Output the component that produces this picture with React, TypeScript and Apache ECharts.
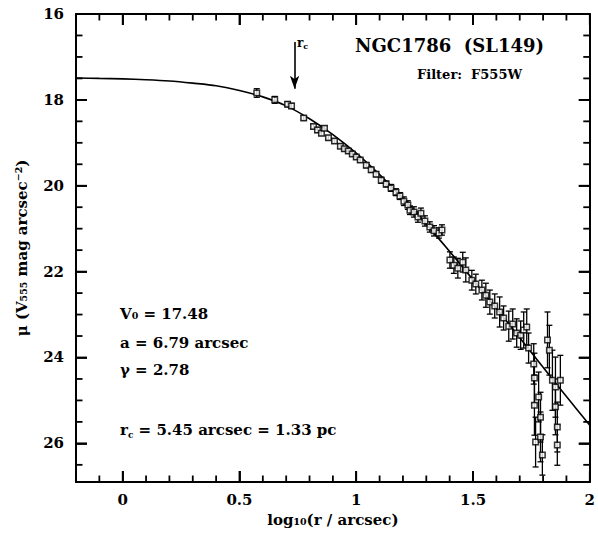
import React, { useEffect, useRef } from 'react';
import * as echarts from 'echarts';

// Observed profile points: log10(r / arcsec), surface brightness, 1-sigma error
const logR = [
  0.574, 0.651, 0.706, 0.723, 0.775, 0.817, 0.834, 0.851, 0.864, 0.881,
  0.907, 0.932, 0.949, 0.966, 0.983, 1.000, 1.017, 1.043, 1.064, 1.085,
  1.107, 1.128, 1.149, 1.170, 1.187, 1.204, 1.221, 1.230, 1.247, 1.264,
  1.277, 1.294, 1.315, 1.333, 1.354, 1.367, 1.401, 1.418, 1.435, 1.456,
  1.469, 1.495, 1.512, 1.538, 1.555, 1.572, 1.593, 1.614, 1.631, 1.653,
  1.670, 1.687, 1.704, 1.717, 1.730, 1.738, 1.760, 1.763, 1.763, 1.768,
  1.781, 1.789, 1.789, 1.797, 1.819, 1.827, 1.840, 1.853, 1.853, 1.861,
  1.861, 1.874
];
const mu = [
  17.84, 18.00, 18.10, 18.14, 18.42, 18.62, 18.70, 18.78, 18.66, 18.88,
  18.96, 19.08, 19.14, 19.19, 19.26, 19.33, 19.40, 19.52, 19.63, 19.73,
  19.87, 19.96, 20.05, 20.15, 20.24, 20.36, 20.45, 20.57, 20.61, 20.73,
  20.64, 20.82, 20.96, 21.05, 21.10, 21.03, 21.73, 21.85, 21.92, 21.78,
  21.96, 22.20, 22.29, 22.43, 22.55, 22.71, 22.80, 22.94, 23.08, 23.27,
  23.22, 23.43, 23.48, 23.36, 23.29, 23.78, 24.15, 24.48, 25.11, 25.97,
  24.92, 25.39, 25.85, 26.27, 23.59, 23.83, 24.53, 24.69, 25.15, 25.62,
  26.04, 24.53
];
const muErr = [
  0.10, 0.08, 0.06, 0.06, 0.05, 0.05, 0.06, 0.05, 0.05, 0.05,
  0.05, 0.05, 0.05, 0.05, 0.05, 0.05, 0.05, 0.06, 0.06, 0.06,
  0.07, 0.07, 0.08, 0.08, 0.08, 0.10, 0.10, 0.10, 0.12, 0.12,
  0.12, 0.12, 0.12, 0.12, 0.12, 0.12, 0.19, 0.19, 0.23, 0.23,
  0.28, 0.23, 0.23, 0.23, 0.28, 0.28, 0.28, 0.35, 0.28, 0.35,
  0.35, 0.33, 0.33, 0.42, 0.42, 0.35, 0.47, 0.58, 0.70, 0.58,
  0.58, 0.58, 0.58, 0.47, 0.65, 0.58, 0.70, 0.70, 0.65, 0.58,
  0.47, 0.58
];

// Fitted profile curve
const curveLogR = [-0.2, -0.1, 0.0, 0.1, 0.2, 0.3, 0.4, 0.5, 0.6, 0.7, 0.8, 0.9, 1.0, 1.1, 1.2, 1.3, 1.4, 1.5, 1.6, 1.7, 1.8, 1.9, 2.0];
const curveMu = [17.49, 17.50, 17.51, 17.53, 17.56, 17.61, 17.67, 17.78, 17.93, 18.14, 18.44, 18.81, 19.24, 19.74, 20.29, 20.90, 21.53, 22.19, 22.86, 23.54, 24.23, 24.91, 25.58];

// Axis ticks
const xMajorTicks = [0, 0.5, 1, 1.5, 2];
const xMinorTicks = [-0.1, 0.1, 0.2, 0.3, 0.4, 0.6, 0.7, 0.8, 0.9, 1.1, 1.2, 1.3, 1.4, 1.6, 1.7, 1.8, 1.9];
const yMajorTicks = [16, 18, 20, 22, 24, 26];
const yMinorTicks = [16.5, 17, 17.5, 18.5, 19, 19.5, 20.5, 21, 21.5, 22.5, 23, 23.5, 24.5, 25, 25.5, 26.5];

// Core radius arrow (log10 of 5.45 arcsec) and its vertical extent
const rcLog = 0.736;
const rcArrowMu = [16.65, 17.74];

// Annotation texts
const titleText = 'NGC1786  (SL149)';
const filterText = 'Filter:  F555W';
const paramLines = ['V₀ = 17.48', 'a = 6.79 arcsec', 'γ = 2.78'];

const FONT = 'DejaVu Serif';
const X_MIN = -0.2, X_MAX = 2, Y_MIN = 16, Y_MAX = 26.9;
const W = 598, H = 541;

export default function App() {
  const ref = useRef<HTMLDivElement>(null);
  useEffect(() => {
    if (!ref.current) return;
    const chart = echarts.init(ref.current, undefined, { renderer: 'svg' });
    const black = '#000';
    const labelStyle = { color: black, fontFamily: FONT, fontWeight: 'bold' as const, fontSize: 15 };
    const MAJOR_LEN = 11, MINOR_LEN = 6.5, TICK_W = 1.8;
    const tickLine = { color: black, width: TICK_W };

    const xBase = { type: 'value', min: X_MIN, max: X_MAX, splitLine: { show: false } };
    const yBase = { type: 'value', min: Y_MIN, max: Y_MAX, inverse: true, splitLine: { show: false } };

    const pts = logR.map((x, i) => [x, mu[i], muErr[i]]);
    const curve = curveLogR.map((x, i) => [x, curveMu[i]]);

    chart.setOption({
      animation: false,
      backgroundColor: '#fff',
      grid: { left: 76, right: 6, top: 14, bottom: 59, containLabel: false },
      xAxis: [
        {
          ...xBase, position: 'bottom', splitNumber: 5,
          axisLine: { show: true, onZero: false, lineStyle: { color: black, width: 2 } },
          axisTick: { show: true, inside: true, length: MAJOR_LEN, lineStyle: tickLine },
          axisLabel: { show: true, margin: 10, showMinLabel: false, ...labelStyle },
          name: 'log₁₀(r / arcsec)', nameLocation: 'middle', nameGap: 30,
          nameTextStyle: { color: black, fontFamily: FONT, fontWeight: 'bold', fontSize: 15 },
        },
        {
          ...xBase, position: 'top', splitNumber: 5,
          axisLine: { show: true, onZero: false, lineStyle: { color: black, width: 2 } },
          axisTick: { show: true, inside: true, length: MAJOR_LEN, lineStyle: tickLine },
          axisLabel: { show: false },
        },
      ],
      yAxis: [
        {
          ...yBase, position: 'left', interval: 2,
          axisLine: { show: true, onZero: false, lineStyle: { color: black, width: 2 } },
          axisTick: { show: true, inside: true, length: MAJOR_LEN, lineStyle: tickLine },
          axisLabel: { show: true, margin: 12, showMaxLabel: false, ...labelStyle },
          name: 'μ (V₅₅₅ mag arcsec⁻²)', nameLocation: 'middle', nameGap: 47, nameRotate: 90,
          nameTextStyle: { color: black, fontFamily: FONT, fontWeight: 'bold', fontSize: 15 },
        },
        {
          ...yBase, position: 'right', interval: 2,
          axisLine: { show: true, onZero: false, lineStyle: { color: black, width: 2 } },
          axisTick: { show: true, inside: true, length: MAJOR_LEN, lineStyle: tickLine },
          axisLabel: { show: false },
        },
      ],
      series: [
        {
          type: 'line', data: curve, smooth: 0.3, showSymbol: false, symbol: 'none',
          xAxisIndex: 0, yAxisIndex: 0,
          lineStyle: { color: black, width: 1.6 }, z: 2,
          markLine: {
            silent: true, symbol: ['none', 'arrow'], symbolSize: [7, 13],
            lineStyle: { color: black, width: 1.6, type: 'solid' },
            label: { show: false },
            data: [[{ coord: [rcLog, rcArrowMu[0]] }, { coord: [rcLog, rcArrowMu[1]] }]],
          },
        },
        {
          type: 'custom', data: pts, xAxisIndex: 0, yAxisIndex: 0, z: 3,
          renderItem: (params: any, api: any) => {
            const x = api.value(0), y = api.value(1), e = api.value(2);
            const t = api.coord([x, y - e]);
            const b = api.coord([x, y + e]);
            const hw = 3;
            return {
              type: 'group',
              children: [
                { type: 'line', shape: { x1: t[0], y1: t[1], x2: b[0], y2: b[1] }, style: { stroke: '#000', lineWidth: 1.3 } },
                { type: 'line', shape: { x1: t[0] - hw, y1: t[1], x2: t[0] + hw, y2: t[1] }, style: { stroke: '#000', lineWidth: 1.3 } },
                { type: 'line', shape: { x1: b[0] - hw, y1: b[1], x2: b[0] + hw, y2: b[1] }, style: { stroke: '#000', lineWidth: 1.3 } },
              ],
            };
          },
        },
        {
          type: 'scatter', data: pts.map(p => [p[0], p[1]]), xAxisIndex: 0, yAxisIndex: 0, z: 4,
          symbol: 'rect', symbolSize: 5.5,
          itemStyle: { color: '#fff', borderColor: black, borderWidth: 1.5 },
        },
      ],
    });

    // Tick marks as thin filled rectangles, positioned through the chart's own scales
    const toPx = (x: number, y: number) => chart.convertToPixel({ gridIndex: 0 }, [x, y]) as number[];
    const tl = toPx(X_MIN, Y_MIN);
    const br = toPx(X_MAX, Y_MAX);
    const tickEls: any[] = [];
    const box = (x: number, y: number, w: number, h: number) => {
      if ([x, y, w, h].some(v => !isFinite(v))) return;
      tickEls.push({ type: 'rect', silent: true, z: 100, shape: { x, y, width: w, height: h }, style: { fill: '#000' } });
    };
    const half = TICK_W / 2;
    if (tl && br) {
      const xt = (v: number, L: number) => {
        const px = toPx(v, Y_MIN)[0];
        box(px - half, br[1] - L, TICK_W, L);
        box(px - half, tl[1], TICK_W, L);
      };
      const yt = (v: number, L: number) => {
        const py = toPx(X_MIN, v)[1];
        box(tl[0], py - half, L, TICK_W);
        box(br[0] - L, py - half, L, TICK_W);
      };
      xMajorTicks.forEach(v => xt(v, MAJOR_LEN));
      xMinorTicks.forEach(v => xt(v, MINOR_LEN));
      yMajorTicks.forEach(v => yt(v, MAJOR_LEN));
      yMinorTicks.forEach(v => yt(v, MINOR_LEN));
    }

    chart.setOption({
      graphic: [
        ...tickEls,
        { type: 'text', left: 355, top: 36, style: { text: titleText, fill: black, font: `bold 18px "${FONT}"` } },
        { type: 'text', left: 417, top: 68, style: { text: filterText, fill: black, font: `bold 13px "${FONT}"` } },
        {
          type: 'text', left: 297, top: 37,
          style: {
            text: '{a|r}{b|c}',
            rich: {
              a: { fontFamily: FONT, fontWeight: 'bold', fontSize: 12, lineHeight: 14, fill: black },
              b: { fontFamily: FONT, fontWeight: 'bold', fontSize: 8, lineHeight: 8, verticalAlign: 'bottom', fill: black },
            },
          },
        },
        ...paramLines.map((t, i) => ({
          type: 'text', left: 120, top: [306, 335, 362][i],
          style: { text: t, fill: black, font: `bold 15px "${FONT}"` },
        })),
        {
          type: 'text', left: 120, top: 422,
          style: {
            text: '{a|r}{b|c}{a| = 5.45 arcsec = 1.33 pc}',
            rich: {
              a: { fontFamily: FONT, fontWeight: 'bold', fontSize: 15, lineHeight: 19, fill: black },
              b: { fontFamily: FONT, fontWeight: 'bold', fontSize: 9, lineHeight: 9, verticalAlign: 'bottom', fill: black },
            },
          },
        },
      ],
    });
    return () => chart.dispose();
  }, []);
  return <div ref={ref} style={{ position: 'fixed', left: 0, top: 0, width: W, height: H, background: '#fff' }} />;
}
